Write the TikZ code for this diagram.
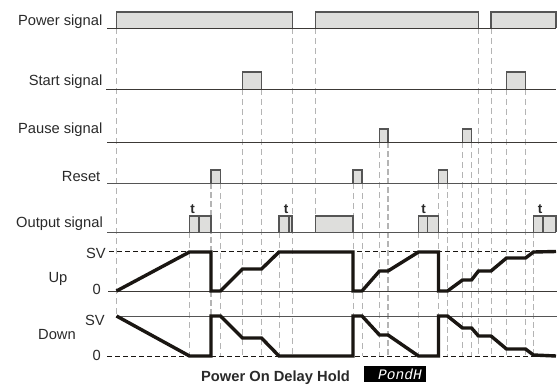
\documentclass[tikz,border=0pt]{standalone}
\usepackage{fontspec}
\setmainfont{Liberation Sans}
\newfontfamily\segfont[FakeSlant=0.2]{Liberation Mono}
\definecolor{pulsefill}{HTML}{DEDEDC}
\definecolor{pulseedge}{HTML}{555555}
\definecolor{guide}{HTML}{B4B4B4}
\definecolor{ink}{HTML}{1A1612}
\definecolor{labelink}{HTML}{2A2A2A}
\tikzset{
  x=1pt,y=-1pt,
  lab/.style={font=\fontsize{14.7}{16}\selectfont,text=labelink,inner sep=0pt},
  base/.style={draw=ink!85,line width=1pt},
  pulse/.style={fill=pulsefill,draw=pulseedge,line width=1.2pt},
  guideline/.style={draw=guide,line width=0.8pt,dash pattern=on 6pt off 4pt},
  guidethick/.style={draw=guide,line width=1.4pt,dash pattern=on 6pt off 3pt},
  level/.style={draw=ink,line width=0.9pt,dash pattern=on 4.5pt off 3.5pt},
  trace/.style={draw=ink,line width=3.4pt,line join=miter},
}
\begin{document}
\begin{tikzpicture}
\useasboundingbox (0,0) rectangle (559,386);
\fill[white] (0,0) rectangle (559,386);
% guide lines
\foreach \x/\a/\b in {116.5/28/316,189.5/232/356,220.5/183/356,242.5/89/356,261.5/89/356,279/232/356,292.5/28/356,315.5/28/232,353/183/356,362/183/356,379.5/142/356,418.5/232/356,438.5/183/356,462.5/142/356,471.5/142/356,478.5/28/356,491/28/356,506.5/89/356,525.5/89/356}
  \draw[guideline] (\x,\a) -- (\x,\b);
\foreach \x/\a/\b in {211/183/356,388/142/356,447.5/183/356,533.5/232/356}
  \draw[guidethick] (\x,\a) -- (\x,\b);
% pulses
\foreach \l/\r/\t/\b in {116.5/292.5/12/28,315.5/478.5/12/28,491/556/12/28,242.5/261.5/72/89.5,506.5/525.5/72/89.5,379.5/388/129/142,462.5/471.5/129/142,211/220.5/170/183.5,353/362/170/183.5,438.5/447.5/170/183.5,189.5/211/216/232,279/292/216/232,315.5/353/216/232,418.5/438.5/216/232,533.5/556/216/232}
  \draw[pulse] (\l,\b) -- (\l,\t) -- (\r,\t) -- (\r,\b);
\foreach \x in {199,289,427.5,543}
  \draw[pulseedge,line width=1.2pt] (\x,216) -- (\x,232);
% base lines
\draw[base] (107,28) -- (556,28);
\draw[base] (106,89.5) -- (556,89.5);
\draw[base] (107,142) -- (557,142);
\draw[base,draw=pulseedge] (107,183.5) -- (557,183.5);
\draw[base,draw=pulseedge] (107,232) -- (556,232);
\draw[level] (109,251.5) -- (556,251.5);
\draw[base] (108,291) -- (557,291);
\draw[base,draw=pulseedge] (116,316) -- (557,316);
\draw[level] (107,356.5) -- (556,356.5);
% traces
\draw[trace] (116.5,291) -- (189.5,252) -- (211,252) -- (211,291) -- (220.5,291) -- (242.5,269) -- (261.5,269) -- (279,252) -- (353,252) -- (353,291) -- (362,291) -- (379.5,271) -- (388,271) -- (418.5,252) -- (438.5,252) -- (438.5,291) -- (447.5,291) -- (462.5,280) -- (471.5,280) -- (478.5,271) -- (491,271) -- (506.5,258) -- (525.5,258) -- (533.5,252) -- (556,251.5);
\draw[trace] (116.5,316) -- (189.5,356) -- (211,356) -- (211,316) -- (220.5,316) -- (242.5,338) -- (261.5,338) -- (279,356) -- (353,356) -- (353,316) -- (362,316) -- (379.5,335) -- (388,335) -- (418.5,356) -- (438.5,356) -- (438.5,316) -- (447.5,316) -- (462.5,328) -- (471.5,328) -- (478.5,336) -- (491,336) -- (506.5,349) -- (525.5,349) -- (533.5,355) -- (556,356);
% labels
\node[lab,anchor=base east] (power) at (102.5,25) {Power signal};
\node[lab,anchor=base east] (start) at (102.5,85) {Start signal};
\node[lab,anchor=base east] (pause) at (102.5,133) {Pause signal};
\node[lab,anchor=base east] (reset) at (100.5,181) {Reset};
\node[lab,anchor=base east] (output) at (103,227.5) {Output signal};
\node[lab,anchor=base east] (sv1) at (106,258) {SV};
\node[lab,anchor=base] (up) at (58,282) {Up};
\node[lab,anchor=base east] (zero1) at (101,294) {0};
\node[lab,anchor=base east] (sv2) at (105,325) {SV};
\node[lab,anchor=base] (down) at (57,339.5) {Down};
\node[lab,anchor=base east] (zero2) at (101,360) {0};
\foreach \n/\x in {t1/192.5,t2/286,t3/423.5,t4/540}
  \node[lab,anchor=base,font=\fontsize{13.5}{15}\selectfont\bfseries] (\n) at (\x,213) {t};
\node[lab,anchor=base,font=\fontsize{14.7}{16}\selectfont\bfseries] (title) at (275.5,381) {Power On Delay Hold};
\node[fill=black,minimum width=62pt,minimum height=16pt,inner sep=0pt,anchor=north west] (box) at (364,366) {};
\node[anchor=center,inner sep=0pt,xshift=4pt,text=white,font=\fontsize{14.5}{15}\segfont] (pond) at (box.center) {PondH};
\end{tikzpicture}
\end{document}
